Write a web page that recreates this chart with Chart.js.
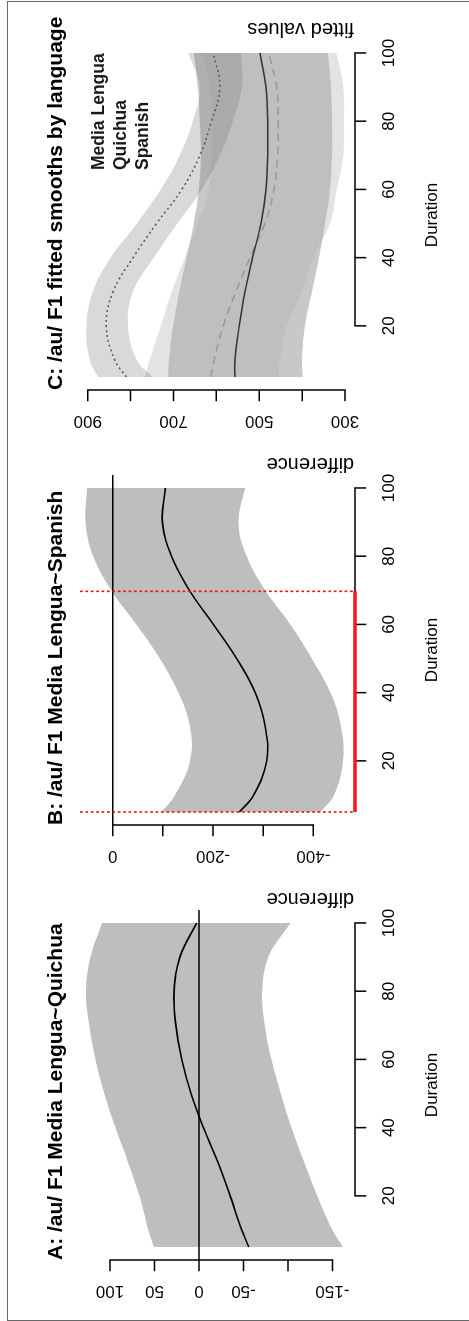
<!DOCTYPE html>
<html><head><meta charset="utf-8">
<script src="https://cdn.jsdelivr.net/npm/chart.js@4.4.1/dist/chart.umd.min.js"></script>
<style>
html,body{margin:0;padding:0;background:#fff;overflow:hidden;width:469px;height:1321px;}
#frame{position:absolute;left:7.3px;top:1px;width:540px;height:1319.8px;box-sizing:border-box;border:1.7px solid #686868;}
#rot{position:absolute;left:0;top:0;width:1321px;height:469px;transform-origin:0 0;transform:translate(0px,1321px) rotate(-90deg);}
#rot canvas{position:absolute;top:0;}
</style></head><body>
<div id="frame"></div>
<div id="rot">
<canvas id="cA" width="435" height="469" style="left:0px"></canvas>
<canvas id="cB" width="435" height="469" style="left:435px"></canvas>
<canvas id="cC" width="435" height="469" style="left:870px"></canvas>
</div>
<script>
// ---------- data ----------
const duration = [5, 10, 20, 30, 40, 50, 60, 70, 80, 90, 100];
const xTicks = [20, 40, 60, 80, 100];
const xTickLabels = ["20", "40", "60", "80", "100"];

// Panel A: Media Lengua ~ Quichua difference
const diffA  = [-56, -48, -35, -21, -5, 9, 19.5, 26, 28, 21.5, 2.6];
const upperA = [50.6, 57, 67, 80, 94, 106.5, 116.5, 123.5, 127, 122, 109];
const lowerA = [-162, -150, -133, -118, -104, -92, -81.5, -74, -71, -78, -103];
const yTicksA = [100, 50, 0, -50, -100, -150];
const yLabelsA = ["100", "50", "0", "-50", "", "-150"];

// Panel B: Media Lengua ~ Spanish difference
const diffB  = [-252.7, -281, -307, -304, -284, -247, -200.7, -152.7, -117, -99, -105];
const upperB = [-97, -124, -154, -154, -131, -94, -47, 3, 39, 54, 51];
const lowerB = [-414, -441, -459, -455, -434, -397, -354, -304, -267, -251, -264];
const yTicksB = [0, -100, -200, -300, -400];
const yLabelsB = ["0", "", "-200", "", "-400"];
const sigStartB = 5;
const sigEndB = 69.7;

// Panel C: fitted smooths by language
const fitSolid   = [556.8, 556.8, 546.7, 533.4, 515.5, 496.1, 484.4, 480.4, 480.4, 484.4, 498.4];
const upperSolid = [712.5, 710.2, 700.8, 686.8, 669.6, 652.5, 640.8, 636.2, 638.5, 643.2, 652.5];
const lowerSolid = [398.7, 400.4, 393.3, 377, 360.7, 346.7, 335, 330.3, 330.3, 332.6, 339.6];
const fitDashed   = [612.8, 605.1, 584.1, 554.4, 521.8, 486.7, 465.7, 457.1, 455.7, 459.4, 478];
const upperDashed = [766.9, 755.2, 729.6, 703.9, 673.5, 643.2, 617.5, 610.5, 609.3, 615.2, 635];
const lowerDashed = [455.7, 451.7, 436.1, 401.1, 374, 335, 319.3, 303.9, 302.3, 303.9, 320];
const fitDotted   = [809.6, 837, 856.8, 840.9, 794.2, 739.6, 680.5, 638.5, 611.2, 591.8, 607.4];
const upperDotted = [876, 895.3, 903, 888.3, 846.3, 785.6, 729.6, 685.2, 654.8, 638.5, 665.8];
const lowerDotted = [748.2, 785.6, 805.9, 794.2, 745.9, 691, 633.8, 591.8, 561.5, 540.4, 542.8];
const yTicksC = [900, 800, 700, 600, 500, 400, 300];
const yLabelsC = ["900", "", "700", "", "500", "", "300"];
const legendC = ["Media Lengua", "Quichua", "Spanish"];

// ---------- helpers ----------
const FONT = '"Liberation Sans", Arial, Helvetica, sans-serif';
const pts = arr => duration.map((d, i) => ({x: d, y: arr[i]}));
const CLEAR = 'rgba(0,0,0,0)';

function bandSets(up, lo, color) {
  return [
    {data: pts(up), fill: '+1', backgroundColor: color, borderColor: CLEAR, borderWidth: 0},
    {data: pts(lo), fill: false, borderColor: CLEAR, borderWidth: 0}
  ];
}
function lineSet(arr, color, width, dash) {
  return {data: pts(arr), fill: false, borderColor: color, borderWidth: width, borderDash: dash || [], borderCapStyle: 'butt'};
}

function rPlugin(cfg) {
  return {
    id: 'rstyle',
    afterDatasetsDraw(chart) {
      const ctx = chart.ctx, xs = chart.scales.x, ys = chart.scales.y, a = chart.chartArea;
      ctx.save();
      if (cfg.zeroLine) {
        const y = ys.getPixelForValue(0);
        ctx.strokeStyle = '#000'; ctx.lineWidth = 1.6;
        ctx.beginPath(); ctx.moveTo(a.left, y); ctx.lineTo(a.right, y); ctx.stroke();
      }
      if (cfg.sig) {
        ctx.strokeStyle = '#f01010'; ctx.lineWidth = 1.6; ctx.setLineDash([2.7, 2.7]);
        cfg.sig.forEach(v => {
          const x = xs.getPixelForValue(v);
          ctx.beginPath(); ctx.moveTo(x, a.top); ctx.lineTo(x, a.bottom); ctx.stroke();
        });
        ctx.setLineDash([]);
      }
      ctx.restore();
    },
    afterDraw(chart) {
      const ctx = chart.ctx, xs = chart.scales.x, ys = chart.scales.y, a = chart.chartArea;
      ctx.save();
      ctx.strokeStyle = '#000'; ctx.fillStyle = '#000'; ctx.lineWidth = 1.5; ctx.lineCap = 'square';
      // x axis
      const y0 = a.bottom;
      ctx.beginPath();
      ctx.moveTo(xs.getPixelForValue(xTicks[0]), y0);
      ctx.lineTo(xs.getPixelForValue(xTicks[xTicks.length - 1]), y0);
      xTicks.forEach(t => { const x = xs.getPixelForValue(t); ctx.moveTo(x, y0); ctx.lineTo(x, y0 + 10.5); });
      ctx.stroke();
      ctx.font = '17px ' + FONT; ctx.textAlign = 'center'; ctx.textBaseline = 'alphabetic';
      xTicks.forEach((t, i) => ctx.fillText(xTickLabels[i], xs.getPixelForValue(t), y0 + 38.5));
      ctx.fillText('Duration', (a.left + a.right) / 2, y0 + 81.5);
      // y axis
      const x0 = a.left;
      ctx.beginPath();
      ctx.moveTo(x0, ys.getPixelForValue(cfg.yTicks[0]));
      ctx.lineTo(x0, ys.getPixelForValue(cfg.yTicks[cfg.yTicks.length - 1]));
      cfg.yTicks.forEach(t => { const y = ys.getPixelForValue(t); ctx.moveTo(x0, y); ctx.lineTo(x0 - 10.5, y); });
      ctx.stroke();
      cfg.yTicks.forEach((t, i) => {
        if (!cfg.yLabels[i]) return;
        ctx.save();
        ctx.translate(x0 - 26, ys.getPixelForValue(t));
        ctx.rotate(-Math.PI / 2);
        ctx.textAlign = 'center';
        ctx.fillText(cfg.yLabels[i], 0, 0);
        ctx.restore();
      });
      // y label (right side, rotated)
      ctx.save();
      ctx.font = '20px ' + FONT;
      ctx.translate(a.right + 17, a.bottom - 1);
      ctx.rotate(-Math.PI / 2);
      ctx.textAlign = 'left';
      ctx.fillText(cfg.ylab, 0, 0);
      ctx.restore();
      // title
      ctx.font = 'bold 21px ' + FONT; ctx.textAlign = 'left';
      ctx.fillText(cfg.title, a.left, 61.7);
      // legend
      if (cfg.legend) {
        ctx.font = 'bold 17.5px ' + FONT; ctx.fillStyle = '#1a1a1a';
        cfg.legend.forEach((s, i) => ctx.fillText(s, a.left + 220, 103.5 + 22 * i));
      }
      // significance bar on x axis
      if (cfg.sig) {
        ctx.strokeStyle = '#f01818'; ctx.lineWidth = 3.4; ctx.lineCap = 'butt';
        ctx.beginPath();
        ctx.moveTo(xs.getPixelForValue(cfg.sig[0]), y0);
        ctx.lineTo(xs.getPixelForValue(cfg.sig[1]), y0);
        ctx.stroke();
      }
      ctx.restore();
    }
  };
}

function makeChart(id, datasets, yMin, yMax, cfg) {
  return new Chart(document.getElementById(id), {
    type: 'line',
    data: {datasets: datasets},
    options: {
      responsive: false, animation: false, devicePixelRatio: 1,
      layout: {padding: {left: 61, right: 24, top: 80, bottom: 114}},
      elements: {point: {radius: 0}, line: {cubicInterpolationMode: 'default', tension: 0.4}},
      scales: {
        x: {type: 'linear', min: 1.2, max: 103.8, display: false},
        y: {type: 'linear', min: yMin, max: yMax, display: false}
      },
      plugins: {legend: {display: false}, tooltip: {enabled: false},
                filler: {propagate: false, drawTime: 'beforeDatasetsDraw'}}
    },
    plugins: [rPlugin(cfg)]
  });
}

const GREY = '#bebebe';
makeChart('cA', [...bandSets(upperA, lowerA, GREY), lineSet(diffA, '#000', 1.6)], -175.4, 133.8,
  {title: 'A: /au/ F1 Media Lengua~Quichua', ylab: 'difference', yTicks: yTicksA, yLabels: yLabelsA, zeroLine: true});
makeChart('cB', [...bandSets(upperB, lowerB, GREY), lineSet(diffB, '#000', 1.6)], -483, 65.2,
  {title: 'B: /au/ F1 Media Lengua~Spanish', ylab: 'difference', yTicks: yTicksB, yLabels: yLabelsB, zeroLine: true, sig: [sigStartB, sigEndB]});
makeChart('cC', [
    ...bandSets(upperDotted, lowerDotted, 'rgba(112,112,112,0.266)'),
    ...bandSets(upperSolid, lowerSolid, 'rgba(174,174,174,0.68)'),
    ...bandSets(upperDashed, lowerDashed, 'rgba(199,199,199,0.5)'),
    lineSet(fitSolid, '#333', 1.5),
    lineSet(fitDashed, '#9a9a9a', 1.5, [8, 5]),
    lineSet(fitDotted, '#555', 1.5, [2, 3])
  ], 276.7, 918,
  {title: 'C: /au/ F1 fitted smooths by language', ylab: 'fitted values', yTicks: yTicksC, yLabels: yLabelsC, legend: legendC});
</script>
</body></html>
